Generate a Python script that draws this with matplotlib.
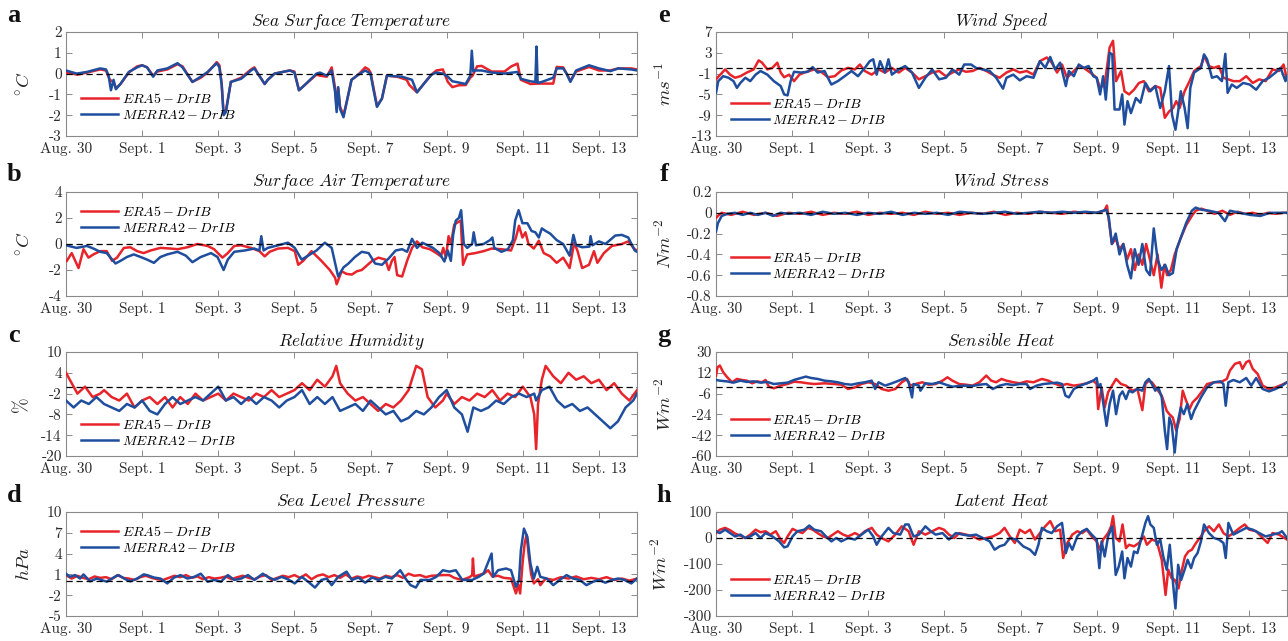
import numpy as np
import matplotlib.pyplot as plt

plt.rcParams['font.family'] = 'cmr10'
plt.rcParams['mathtext.fontset'] = 'cm'
plt.rcParams['axes.unicode_minus'] = False

RED = '#e8242b'
BLUE = '#1f4e9e'

# ---------------- data (days since Aug 30 00:00) ----------------
# a: sea surface temperature
sst_t_era = [0, 0.3, 0.55, 0.9, 1.05, 1.15, 1.25, 1.31, 1.43, 1.65, 1.87, 2.0, 2.13, 2.29, 2.4, 2.66,
             2.93, 3.06, 3.32, 3.54, 3.72, 3.96, 4.03, 4.09, 4.14, 4.2, 4.33, 4.6, 4.86, 4.95, 5.04,
             5.22, 5.3, 5.48, 5.88, 6.0, 6.12, 6.27, 6.58, 6.67, 6.85, 6.98, 7.07, 7.11, 7.15, 7.2,
             7.29, 7.37, 7.5, 7.68, 7.86, 7.95, 8.0, 8.08, 8.17, 8.3, 8.43, 8.7, 8.95, 9.02, 9.22,
             9.44, 9.6, 9.73, 9.9, 10.03, 10.15, 10.32, 10.5, 10.62, 10.68, 10.8, 10.92, 11.18, 11.52,
             11.7, 11.86, 11.95, 12.2, 12.4, 12.8, 12.89, 13.06, 13.15, 13.25, 13.4, 13.74, 14.0,
             14.3, 14.51, 14.85, 15.0]
sst_era = [0.05, -0.05, 0.05, 0.2, 0.15, -0.3, -0.4, -0.7, -0.5, 0.05, 0.35, 0.4, 0.3, -0.1, 0.1, 0.2,
           0.45, 0.35, -0.4, -0.2, 0.05, 0.55, 0.4, -0.5, -1.9, -1.8, -0.4, -0.2, 0.2, 0.3, 0.0,
           -0.5, -0.3, 0.0, 0.15, 0.1, -0.8, -0.55, -0.05, -0.1, -0.15, 0.3, -0.7, -1.7, -0.7, -1.6,
           -2.0, -1.4, -0.3, -0.05, 0.3, 0.2, 0.05, -0.7, -1.55, -1.2, -0.1, -0.15, -0.3, -0.55, -0.9,
           -0.4, -0.05, 0.15, 0.2, -0.4, -0.65, -0.56, -0.55, -0.2, -0.1, 0.35, 0.37, 0.1, 0.1,
           0.35, 0.48, -0.3, -0.5, -0.48, -0.48, 0.32, 0.3, 0.0, -0.35, 0.1, 0.32, 0.15,
           0.15, 0.25, 0.25, 0.2]
sst_t_mer = [0, 0.28, 0.55, 0.9, 1.05, 1.12, 1.18, 1.25, 1.31, 1.43, 1.65, 1.87, 2.0, 2.13, 2.29, 2.4,
             2.66, 2.93, 3.06, 3.32, 3.54, 3.72, 3.96, 4.03, 4.09, 4.14, 4.2, 4.33, 4.6, 4.86, 4.95,
             5.04, 5.22, 5.3, 5.48, 5.88, 6.0, 6.12, 6.27, 6.58, 6.67, 6.85, 6.98, 7.07, 7.11, 7.15,
             7.2, 7.29, 7.37, 7.5, 7.68, 7.86, 8.0, 8.08, 8.17, 8.3, 8.43, 8.83, 9.09, 9.22, 9.44,
             9.6, 9.73, 9.9, 10.03, 10.15, 10.32, 10.5, 10.62, 10.66, 10.7, 10.74, 10.92, 11.18,
             11.52, 11.86, 11.95, 12.2, 12.33, 12.36, 12.39, 12.5, 12.8, 12.89, 13.06, 13.15,
             13.25, 13.4, 13.74, 14.0, 14.3, 14.51, 14.85, 15.0]
sst_mer = [0.15, 0.0, 0.08, 0.25, 0.2, -0.1, -0.8, -0.3, -0.75, -0.5, 0.08, 0.3, 0.4, 0.3, -0.15, 0.15,
           0.25, 0.5, 0.3, -0.4, -0.15, 0.08, 0.5, 0.3, -0.55, -2.0, -1.85, -0.4, -0.25, 0.15, 0.25,
           0.0, -0.5, -0.3, 0.0, 0.15, 0.05, -0.8, -0.55, 0.0, 0.05, -0.1, 0.15, -0.9, -1.85, -0.65,
           -1.7, -2.1, -1.4, -0.3, -0.05, 0.15, 0.0, -0.8, -1.6, -1.2, -0.1, -0.15, -0.3, -0.9, -0.4,
           -0.05, 0.05, 0.0, -0.15, -0.37, -0.43, -0.5, -0.1, 1.1, 0.1, 0.15, 0.15, 0.05,
           0.0, 0.08, -0.25, -0.37, -0.4, 1.3, -0.45, -0.4, -0.2, 0.25, 0.25, 0.0,
           -0.4, 0.15, 0.4, 0.25, 0.12, 0.25, 0.2, 0.15]

# b: surface air temperature
sat_t_era = [0.02, 0.15, 0.33, 0.46, 0.59, 0.72, 0.9, 1.07, 1.21, 1.34, 1.52, 1.69, 1.87, 2.04, 2.22,
             2.48, 2.75, 2.93, 3.19, 3.45, 3.72, 3.89, 4.11, 4.25, 4.42, 4.6, 4.86, 5.08, 5.22, 5.35,
             5.57, 5.83, 6.01, 6.1, 6.23, 6.45, 6.71, 6.93, 7.07, 7.11, 7.24, 7.37, 7.51, 7.64, 7.77,
             8.04, 8.21, 8.39, 8.48, 8.56, 8.63, 8.7, 8.83, 8.96, 9.09, 9.22, 9.36, 9.56, 9.73, 9.85,
             9.91, 9.98, 10.05, 10.11, 10.2, 10.28, 10.37, 10.43, 10.54, 10.75, 10.97, 11.18, 11.44,
             11.69, 11.82, 11.9, 11.99, 12.07, 12.15, 12.29, 12.42, 12.55, 12.72, 12.89, 13.06,
             13.23, 13.35, 13.44, 13.56, 13.74, 13.87, 13.96, 14.13, 14.34, 14.6, 14.77, 14.94, 15.0]
sat_era = [-1.3, -0.7, -1.85, -0.4, -1.05, -0.8, -0.55, -0.55, -1.3, -1.05, -0.3, -0.25, -0.55, -0.7, -0.5,
           -0.3, -0.35, -0.4, -0.25, 0.0, -0.15, -0.4, -1.05, -0.7, -0.15, -0.1, -0.3, -0.55, -0.95, -0.6,
           -0.35, -0.3, -0.55, -1.6, -1.3, -0.55, -1.3, -2.0, -2.6, -3.1, -2.1, -2.3, -2.35, -2.1, -2.0,
           -1.3, -1.05, -1.2, -2.0, -1.3, -1.0, -2.4, -2.5, -1.3, -0.3, 0.2, -0.25, -0.4, -0.7, -0.95,
           -0.3, -1.05, 0.6, 0.0, 1.5, 1.65, 1.8, -1.6, -0.8, -0.7, -0.55, -0.35, -0.4,
           -0.5, 0.5, 1.4, 0.5, 0.9, 0.0, -0.35, 0.25, -0.7, -0.95, -1.45, -1.05,
           -1.85, 0.1, -0.55, -1.85, -1.6, -0.55, -1.45, -0.7, -0.15, 0.0, 0.2, -0.4, -0.5]
sat_t_mer = [0, 0.28, 0.55, 0.72, 0.9, 1.07, 1.3, 1.43, 1.6, 1.78, 1.96, 2.13, 2.31, 2.48, 2.66, 2.93,
             3.15, 3.32, 3.54, 3.81, 3.98, 4.14, 4.25, 4.42, 4.69, 4.95, 5.08, 5.13, 5.19, 5.3, 5.57,
             5.83, 6.01, 6.19, 6.36, 6.58, 6.8, 6.98, 7.11, 7.15, 7.29, 7.42, 7.59, 7.77, 7.95, 8.12,
             8.3, 8.48, 8.66, 8.83, 8.96, 9.09, 9.22, 9.36, 9.64, 9.81, 9.94, 10.03, 10.11, 10.17,
             10.24, 10.32, 10.38, 10.45, 10.54, 10.67, 10.71, 10.77, 10.97, 11.14, 11.2, 11.25,
             11.44, 11.61, 11.74, 11.8, 11.89, 11.99, 12.12, 12.23, 12.33, 12.42, 12.5, 12.6,
             12.72, 12.89, 13.06, 13.23, 13.33, 13.4, 13.56, 13.75, 13.78, 13.83, 14.0, 14.17,
             14.43, 14.6, 14.77, 14.94, 15.0]
sat_mer = [-0.1, -0.3, -0.15, -0.35, -0.6, -0.7, -1.5, -1.3, -1.0, -0.8, -1.0, -1.2, -1.45, -1.0, -0.8, -0.6,
           -0.9, -1.4, -1.0, -0.7, -1.0, -2.0, -1.2, -0.6, -0.5, -0.35, -0.5, 0.6, -0.5, -0.3, -0.1,
           0.1, -0.3, -1.2, -0.9, -0.5, 0.1, -0.3, -2.0, -2.5, -1.8, -1.5, -1.0, -0.6, -0.7, -1.5,
           -1.6, -1.1, -0.5, -0.4, -0.6, 0.4, -0.3, 0.1, -0.3, -0.7, -1.35, -0.5, -1.3, 0.7,
           1.8, 2.0, 2.6, 0.0, -0.3, 0.0, 0.9, -0.1, 0.0, 0.3, 0.5, -0.3,
           -0.6, -0.4, 0.3, 1.8, 2.6, 1.6, 1.6, 1.0, 0.9, 0.5, 1.2, 1.0,
           0.8, 0.3, 0.0, -0.9, 0.7, -0.1, -0.25, -0.2, 0.6, -0.1, 0.2, 0.0,
           0.65, 0.7, 0.5, -0.5, -0.6]

# c: relative humidity
rh_t_era = [0, 0.1, 0.3, 0.5, 0.7, 0.9, 1.0, 1.2, 1.4, 1.6, 1.8, 2.0, 2.2, 2.4, 2.6, 2.8, 3.0, 3.2, 3.4,
            3.6, 3.8, 4.0, 4.2, 4.4, 4.6, 4.8, 5.0, 5.2, 5.4, 5.6, 5.8, 6.0, 6.2, 6.4, 6.6, 6.8, 7.0,
            7.1, 7.2, 7.4, 7.6, 7.8, 8.0, 8.2, 8.4, 8.6, 8.8, 9.0, 9.2, 9.35, 9.5, 9.7, 9.9, 10.0,
            10.2, 10.4, 10.6, 10.8, 11.0, 11.2, 11.4, 11.6, 11.8, 12.0, 12.2, 12.3, 12.35, 12.4,
            12.5, 12.6, 12.8, 13.0, 13.2, 13.4, 13.6, 13.8, 14.0, 14.2, 14.4, 14.6, 14.8, 15.0]
rh_era = [4, 2, -2, 0, -3, -2, -1, -3, -4, -2, -6, -4, -3, -5, -3, -6, -3, -5, -2,
          -4, -3, -2, -4, -2, -3, -4, -2, -3, -1, -3, -2, -1, 1, -1, 2, 0, 3,
          6, 1, -2, -4, -3, -5, -7, -5, -6, -4, -1, 6, 5, -3, -6, -4, -2,
          -5, -3, -4, -2, -3, -1, -4, -2, -3, 0, -3, -8, -18, -5,
          2, 6, 3, 1, 4, 2, 3, 1, 2, -1, 1, -2, -4, -1]
rh_t_mer = [0, 0.2, 0.4, 0.6, 0.8, 1.0, 1.2, 1.4, 1.6, 1.8, 2.0, 2.2, 2.4, 2.6, 2.8, 3.0, 3.2, 3.4, 3.6,
            3.8, 4.0, 4.2, 4.4, 4.6, 4.8, 5.0, 5.2, 5.4, 5.6, 5.8, 6.0, 6.2, 6.4, 6.6, 6.8, 7.0, 7.2,
            7.4, 7.6, 7.8, 8.0, 8.2, 8.4, 8.6, 8.8, 9.0, 9.2, 9.4, 9.6, 9.8, 10.0, 10.2, 10.4, 10.55,
            10.7, 10.9, 11.1, 11.3, 11.5, 11.7, 11.9, 12.1, 12.3, 12.35, 12.5, 12.7, 12.9, 13.1,
            13.3, 13.5, 13.7, 13.9, 14.1, 14.3, 14.5, 14.7, 14.9, 15.0]
rh_mer = [-4, -6, -4, -5, -3, -5, -6, -7, -5, -6, -4, -7, -8, -5, -3, -5, -4, -3, -4,
          -2, 0, -4, -3, -5, -3, -5, -3, -4, -6, -4, -3, -1, -5, -3, -5, -3, -7,
          -6, -5, -7, -4, -6, -8, -7, -10, -9, -7, -8, -6, -3, -1, -6, -8, -13,
          -6, -7, -6, -4, -5, -3, -2, -3, -2, -4, -1, 0, -4, -6,
          -5, -7, -6, -8, -10, -12, -10, -6, -4, -2]

# d: sea level pressure
slp_t_era = [0, 0.15, 0.3, 0.45, 0.6, 0.75, 0.9, 1.05, 1.2, 1.35, 1.5, 1.65, 1.8, 1.95, 2.1, 2.25, 2.4,
             2.55, 2.7, 2.85, 3.0, 3.15, 3.3, 3.45, 3.6, 3.75, 3.9, 4.05, 4.2, 4.35, 4.5, 4.65, 4.8,
             4.95, 5.1, 5.25, 5.4, 5.55, 5.7, 5.85, 6.0, 6.15, 6.3, 6.45, 6.6, 6.75, 6.9, 7.05, 7.2,
             7.35, 7.5, 7.65, 7.8, 7.95, 8.1, 8.25, 8.4, 8.55, 8.7, 8.85, 9.0, 9.15, 9.3, 9.45, 9.6,
             9.9, 10.07, 10.2, 10.4, 10.6, 10.67, 10.69, 10.72, 10.85, 11.0, 11.09, 11.2, 11.35,
             11.5, 11.69, 11.82, 11.88, 11.93, 12.0, 12.05, 12.1, 12.16, 12.22, 12.29, 12.4, 12.46,
             12.6, 12.8, 13.0, 13.2, 13.4, 13.6, 13.8, 14.0, 14.2, 14.4, 14.6, 14.8, 15.0]
slp_era = [0.9, 0.4, 0.8, 0.5, 0.3, 0.7, 0.5, 0.6, 0.3, 0.9, 0.5, 0.4, 0.2, 0.6, 0.8, 0.5, 0.3,
           0.2, 0.5, 0.8, 0.6, 0.9, 0.5, 0.7, 0.3, 0.6, 0.4, 0.5, 0.7, 0.3, 0.6, 0.8, 0.5,
           0.3, 0.7, 0.9, 0.2, 0.5, 0.8, 0.6, 0.9, 0.5, 1.0, 0.3, 0.8, 1.0, 0.6, 0.9, 0.5,
           1.0, 0.4, 0.7, 0.5, 0.8, 0.6, 0.4, 0.8, 0.6, 0.9, 0.5, 1.1, 0.8, 0.9, 0.6, 0.8,
           0.9, 0.9, 0.5, 0.2, 0.6, 0.9, 3.3, 0.7, 0.9, 1.2, 1.6, 0.7, 0.8,
           0.5, 0.4, -1.75, -0.5, -1.75, 3.0, 5.5, 6.7, 3.5, 1.0, -0.3, 0.3, -0.55,
           0.4, 0.2, 0.6, 0.4, 0.7, 0.3, 0.5, 0.3, 0.6, 0.2, 0.4, 0.1, 0.4]
slp_t_mer = [0, 0.1, 0.24, 0.37, 0.46, 0.63, 0.81, 1.07, 1.25, 1.38, 1.56, 1.69, 1.87, 2.04, 2.13, 2.31,
             2.48, 2.66, 2.84, 3.01, 3.19, 3.37, 3.54, 3.72, 3.89, 4.07, 4.25, 4.42, 4.6, 4.78, 4.95,
             5.17, 5.3, 5.48, 5.66, 5.83, 6.01, 6.19, 6.36, 6.54, 6.71, 6.85, 6.98, 7.15, 7.37, 7.51,
             7.68, 7.86, 8.04, 8.21, 8.39, 8.56, 8.78, 8.92, 9.05, 9.19, 9.31, 9.49, 9.56, 9.73,
             9.9, 10.07, 10.24, 10.41, 10.67, 10.84, 10.97, 11.18, 11.22, 11.35, 11.56, 11.69,
             11.82, 11.9, 11.95, 12.03, 12.12, 12.2, 12.29, 12.38, 12.46, 12.63, 12.8, 12.97,
             13.15, 13.32, 13.5, 13.67, 13.85, 14.0, 14.17, 14.34, 14.5, 14.67, 14.85, 15.0]
slp_mer = [1.1, 0.65, 0.9, 0.4, 1.0, 0.0, 0.4, -0.05, 0.55, 0.9, 0.3, 0.0, 0.4, 1.0, 0.9, 0.55,
           0.4, -0.3, 0.55, 0.9, 0.4, 0.65, 1.1, -0.05, 0.2, -0.05, 0.9, 0.2, 0.4, 0.9, 0.2,
           1.1, 0.65, 0.2, 0.65, 0.3, -0.3, 0.65, -0.05, -0.9, 0.2, 0.4, -0.55, 0.65, 1.4, 0.2,
           0.55, -0.2, 0.55, 0.2, 0.65, 0.4, 1.6, 0.4, -0.55, -0.9, 0.2, 0.2, 0.2, 0.65,
           1.6, 1.4, 1.6, 0.2, 0.2, 0.65, 1.1, 4.0, 0.65, 1.6, 1.85, 1.6,
           -0.8, 0.2, 4.5, 7.6, 6.4, 2.6, 0.4, 2.1, 0.65, 0.4, -0.55, 0.2,
           0.9, 0.4, 0.2, -0.55, -0.05, 0.2, -0.2, 0.2, 0.4, 0.2, -0.3, 0.4]

# e: wind speed
ws_t_era = [0, 0.1, 0.24, 0.37, 0.5, 0.64, 0.81, 0.99, 1.12, 1.21, 1.35, 1.48, 1.61, 1.7, 1.79, 1.92,
            2.05, 2.19, 2.32, 2.45, 2.58, 2.76, 2.94, 3.12, 3.29, 3.47, 3.65, 3.78, 3.91, 4.09, 4.27,
            4.44, 4.62, 4.8, 4.97, 5.15, 5.33, 5.5, 5.68, 5.86, 6.04, 6.21, 6.39, 6.57, 6.74, 6.92,
            7.1, 7.27, 7.45, 7.63, 7.81, 7.98, 8.16, 8.34, 8.51, 8.69, 8.82, 8.96, 9.09, 9.22, 9.4,
            9.53, 9.66, 9.83, 10.0, 10.09, 10.21, 10.34, 10.43, 10.51, 10.64, 10.73, 10.85, 10.98,
            11.11, 11.24, 11.37, 11.54, 11.67, 11.79, 11.9, 12.01, 12.09, 12.18, 12.31, 12.44,
            12.56, 12.74, 12.82, 12.95, 13.08, 13.21, 13.33, 13.46, 13.59, 13.76, 13.93, 14.1,
            14.27, 14.44, 14.62, 14.79, 14.91, 15.0]
ws_era = [-2.1, -1.3, -0.2, -1.2, -1.8, -1.5, -0.8, -0.2, 1.55, 1.1, -0.2, 0.1, 1.1, -0.8, -1.7, -1.2,
          -2.45, -1.2, -0.8, -0.5, -0.2, -0.65, -1.7, -1.5, -0.4, 0.1, -0.2, 0.75, -0.5, -1.2, -0.2,
          -0.8, 0.1, -0.8, 0.1, -0.8, -2.1, -1.5, -0.8, -0.5, -1.5, -0.8, -0.2, -0.65, -0.5, 0.1,
          -0.5, -1.2, -1.8, -0.8, -0.2, -0.8, -0.5, -1.2, 1.4, 2.1, 1.1, -0.8, 0.75, -1.8, -0.5,
          0.45, 0.1, -0.8, -1.8, -3.75, -3.1, 4.0, 5.3, -2.45, -0.5, -4.4, -5.0, -4.1,
          -2.8, -2.45, -4.4, -3.4, -3.75, -9.5, -8.3, -7.6, -6.3, -7.6, -4.4, -2.45,
          -0.5, 0.45, 2.4, 0.45, 0.1, 0.45, -1.8, -2.1, -2.45, -2.45, -1.5, -2.8,
          -2.1, -2.45, -0.2, -0.5, 0.75, -2.1]
ws_t_mer = [0, 0.06, 0.19, 0.33, 0.46, 0.55, 0.64, 0.77, 0.9, 1.04, 1.17, 1.35, 1.52, 1.7, 1.79, 1.88,
            1.96, 2.05, 2.23, 2.41, 2.54, 2.67, 2.85, 3.03, 3.2, 3.38, 3.56, 3.73, 3.91, 4.04, 4.13,
            4.22, 4.31, 4.44, 4.53, 4.62, 4.8, 4.97, 5.15, 5.33, 5.5, 5.68, 5.86, 6.04, 6.21, 6.39,
            6.52, 6.7, 6.83, 7.01, 7.19, 7.36, 7.54, 7.63, 7.81, 7.98, 8.16, 8.34, 8.51, 8.65, 8.78,
            8.91, 9.04, 9.19, 9.27, 9.4, 9.53, 9.66, 9.79, 9.91, 10.0, 10.09, 10.17, 10.24, 10.34,
            10.41, 10.47, 10.6, 10.67, 10.73, 10.81, 10.9, 11.03, 11.15, 11.28, 11.41, 11.54,
            11.67, 11.79, 11.9, 11.98, 12.07, 12.14, 12.21, 12.31, 12.39, 12.46, 12.56, 12.74,
            12.82, 12.9, 13.03, 13.16, 13.29, 13.38, 13.44, 13.55, 13.68, 13.85, 14.02, 14.19,
            14.36, 14.53, 14.7, 14.83, 14.96, 15.0]
ws_mer = [-4.7, -2.45, -1.5, -1.8, -2.45, -3.75, -2.8, -1.8, -2.45, -1.2, -0.5, -1.2, -2.45, -3.4, -5.0, -5.2,
          -2.45, -0.65, -0.8, -0.65, 0.25, -0.8, -0.5, -3.1, -2.45, -1.5, -0.5, -1.5, 0.1, 1.4, 1.75,
          -1.2, 1.4, -0.8, 1.75, -1.2, -0.2, 0.45, -0.8, -3.75, -1.8, -0.2, -2.1, -1.8, -0.2, -1.2,
          0.75, 0.75, 0.1, -0.2, -0.5, -1.8, -3.9, -1.8, -1.2, -2.3, -1.5, -1.8, 1.4, 0.1, 2.2,
          -0.2, 1.1, -3.4, -0.5, -1.5, 0.75, 0.1, 0.45, -1.5, -1.8, -5.0, -1.5, -6.0, 3.0,
          2.7, -7.9, -7.9, -5.0, -10.8, -6.3, -8.6, -5.7, -6.6, -2.8, -4.4, -3.4,
          -7.6, -4.4, 0.45, -8.9, -11.8, -8.3, -4.4, -7.6, -11.5, -3.75, -0.8, 0.1,
          2.7, 1.75, -1.8, -1.5, -2.45, 2.8, -4.7, -3.1, -3.75, -2.8, -3.1, -4.1,
          -2.45, -1.8, -0.8, 0.1, -2.45, -1.5]

# f: wind stress
tau_t_era = [0, 0.05, 0.15, 0.4, 0.7, 1.0, 1.3, 1.6, 1.9, 2.2, 2.5, 2.8, 3.1, 3.4, 3.7, 4.0, 4.3, 4.6,
             4.9, 5.2, 5.5, 5.8, 6.1, 6.4, 6.7, 7.0, 7.3, 7.6, 7.9, 8.2, 8.5, 8.8, 9.1, 9.4, 9.7,
             10.0, 10.2, 10.27, 10.33, 10.4, 10.5, 10.6, 10.7, 10.8, 10.9, 11.0, 11.1, 11.2, 11.3,
             11.4, 11.5, 11.6, 11.7, 11.78, 11.85, 11.95, 12.05, 12.2, 12.35, 12.5, 12.6, 12.75,
             12.9, 13.1, 13.3, 13.5, 13.7, 13.9, 14.1, 14.3, 14.5, 14.7, 14.9, 15.0]
tau_era = [-0.05, -0.03, 0.0, -0.02, 0.01, -0.02, 0.0, -0.03, 0.0, -0.01, 0.01, -0.02, 0.0, -0.01, 0.01,
           -0.02, 0.0, -0.01, 0.0, -0.02, 0.01, -0.01, 0.0, -0.02, 0.0, -0.01, 0.01, -0.02, 0.0,
           -0.01, 0.01, 0.0, -0.01, 0.01, 0.0,
           0.0, 0.02, 0.07, -0.1, -0.3, -0.25, -0.35, -0.3, -0.45, -0.35, -0.55, -0.4, -0.5, -0.3,
           -0.45, -0.6, -0.4, -0.72, -0.5, -0.6, -0.55, -0.4, -0.25, -0.12, -0.03, 0.02, 0.04,
           0.02, -0.01, 0.02, -0.02, 0.01, -0.01, 0.0, -0.02, 0.0, -0.01, 0.0, 0.0]
tau_t_mer = [0, 0.05, 0.15, 0.3, 0.5, 0.7, 0.9, 1.1, 1.3, 1.5, 1.7, 1.9, 2.2, 2.5, 2.8, 3.1, 3.4, 3.7,
             4.0, 4.3, 4.6, 4.9, 5.2, 5.5, 5.8, 6.1, 6.4, 6.7, 7.0, 7.3, 7.6, 7.9, 8.2, 8.5, 8.8,
             9.1, 9.4, 9.7, 10.0, 10.25, 10.32, 10.4, 10.5, 10.6, 10.7, 10.8, 10.9, 11.0, 11.1,
             11.2, 11.3, 11.4, 11.5, 11.6, 11.7, 11.8, 11.9, 12.0, 12.1, 12.2, 12.35, 12.5, 12.6,
             12.75, 12.95, 13.2, 13.37, 13.5, 13.76, 14.03, 14.3, 14.55, 14.8, 15.0]
tau_mer = [-0.18, -0.1, -0.03, -0.01, 0.0, -0.02, 0.0, -0.02, 0.0, -0.03, 0.0, -0.01, 0.0, -0.02, 0.01,
           -0.01, 0.0, -0.02, 0.0, -0.01, 0.01, -0.02, 0.0, -0.01, 0.0, -0.02, 0.01, 0.0, -0.01,
           0.0, 0.01, -0.01, 0.0, 0.01, 0.0, 0.01, 0.0, 0.01, 0.0, 0.03, -0.05, -0.3, -0.2, -0.4,
           -0.3, -0.5, -0.63, -0.35, -0.5, -0.3, -0.55, -0.6, -0.15, -0.45, -0.55, -0.5, -0.6,
           -0.58, -0.35, -0.25, -0.1, 0.02, 0.05, 0.03, 0.02, 0.0, -0.08, 0.02, 0.0, -0.02,
           -0.03, 0.0, 0.0, 0.0]

# g: sensible heat
sh_t_era = [0, 0.04, 0.1, 0.19, 0.28, 0.42, 0.55, 0.68, 0.81, 0.95, 1.08, 1.21, 1.3, 1.39, 1.52, 1.7,
            1.88, 2.05, 2.23, 2.41, 2.58, 2.85, 3.12, 3.29, 3.47, 3.65, 3.82, 4.0, 4.18, 4.35, 4.53,
            4.71, 4.88, 5.02, 5.1, 5.24, 5.42, 5.59, 5.77, 5.95, 6.08, 6.21, 6.39, 6.57, 6.74, 6.92,
            7.1, 7.23, 7.36, 7.5, 7.63, 7.81, 7.98, 8.16, 8.34, 8.56, 8.73, 8.87, 9.04, 9.22, 9.4,
            9.57, 9.74, 9.91, 10.0, 10.04, 10.13, 10.21, 10.3, 10.43, 10.51, 10.64, 10.77, 10.94,
            11.07, 11.2, 11.28, 11.37, 11.45, 11.58, 11.71, 11.84, 11.91, 12.0, 12.09, 12.18,
            12.26, 12.35, 12.44, 12.52, 12.65, 12.78, 12.9, 13.08, 13.25, 13.42, 13.5, 13.63,
            13.76, 13.83, 13.93, 14.01, 14.1, 14.23, 14.36, 14.53, 14.7, 14.87, 15.0]
sh_era = [9.6, 16.8, 18.3, 12.5, 8.7, 3.8, 6.7, 5.8, 5.2, 2.9, 4.6, 3.8, 5.8, 0.0, -1.4, 0.9,
          2.3, 4.3, 3.8, 2.9, 2.3, 2.9, 2.3, 1.7, -2.0, -0.6, 2.3, 3.8, 2.3, -2.0, -3.5,
          -2.0, 3.8, 6.7, 0.9, 2.3, 3.8, 1.7, 2.3, 5.2, 8.1, 5.2, 2.3, 1.7, 0.9, 3.8,
          9.6, 5.2, 3.8, 6.7, 5.2, 3.8, 2.9, 4.6, 3.8, 6.7, 5.2, 2.9, 0.9, 2.3, 0.9,
          1.7, 2.9, 5.2, 2.3, -19.4, -0.6, -18.0, -4.9, 2.3, 6.7, 2.3, 0.9, -3.5,
          -2.0, -20.3, 2.3, 5.2, 3.8, -2.0, -7.8, -20.9, -23.8, -26.7, -38.0, -28.0,
          -3.5, -12.2, -19.4, -13.6, -9.3, -3.5, 2.3, 3.8, 3.8, 6.7, 13.9, 19.7,
          21.2, 15.4, 21.2, 22.6, 15.4, 11.0, 0.9, -2.0, -0.6, 1.7, 3.8]
sh_t_mer = [0, 0.1, 0.28, 0.46, 0.64, 0.81, 0.99, 1.17, 1.35, 1.52, 1.7, 1.88, 2.05, 2.23, 2.36, 2.5,
            2.67, 2.85, 3.03, 3.2, 3.38, 3.56, 3.73, 3.91, 4.09, 4.18, 4.27, 4.44, 4.62, 4.8, 4.97,
            5.06, 5.15, 5.19, 5.33, 5.37, 5.5, 5.68, 5.86, 6.04, 6.21, 6.39, 6.57, 6.74, 6.92, 7.1,
            7.27, 7.45, 7.63, 7.81, 7.98, 8.16, 8.25, 8.42, 8.6, 8.78, 8.96, 9.09, 9.18, 9.27, 9.4,
            9.57, 9.74, 9.91, 10.0, 10.04, 10.1, 10.17, 10.26, 10.34, 10.43, 10.51, 10.6, 10.68,
            10.77, 10.85, 10.94, 11.07, 11.2, 11.28, 11.37, 11.45, 11.54, 11.62, 11.71, 11.79,
            11.85, 11.91, 11.97, 12.05, 12.12, 12.21, 12.29, 12.38, 12.48, 12.56, 12.65, 12.74,
            12.9, 13.08, 13.25, 13.33, 13.39, 13.46, 13.59, 13.76, 13.93, 14.06, 14.19, 14.36,
            14.53, 14.7, 14.87, 15.0]
sh_mer = [5.8, 5.2, 4.6, 3.5, 5.2, 4.1, 4.6, 3.5, 4.1, 2.3, 2.9, 3.5, 5.8, 7.5, 8.7, 7.5,
          6.7, 5.2, 4.6, 3.8, 2.3, 1.7, 2.9, 3.8, 5.2, -2.0, 3.8, 0.9, 2.9, 5.2, 7.5,
          3.8, -9.3, 2.3, 0.9, -3.5, 2.9, 2.3, 3.8, 1.7, 0.0, 0.6, 0.9, 0.6, 1.7, 2.3,
          -2.0, 0.9, 2.3, 1.4, 2.3, 2.3, -2.0, 0.9, 2.3, 2.9, 3.5, 2.3, -7.8, -9.3, -2.0,
          0.9, 2.9, 5.2, 7.5, -0.6, 2.3, -13.6, -33.9, -15.1, -3.5, -23.8, -7.8, -4.1,
          -10.7, -3.5, -4.9, -2.0, -3.5, 3.8, 6.7, 2.3, -3.5, -0.6, -9.3, -38.0,
          -54.0, -26.7, -32.5, -57.0, -32.5, -18.0, -23.8, -15.1, -28.0, -20.9, -15.1, -9.3,
          -0.6, 3.8, 4.6, 2.3, -16.5, 3.8, 5.8, 3.8, 7.5, 0.9, 7.5, -2.0,
          -4.1, -2.0, 0.9, 3.8]

# h: latent heat
lh_t_era = [0, 0.1, 0.24, 0.37, 0.5, 0.64, 0.77, 0.9, 1.04, 1.17, 1.3, 1.43, 1.57, 1.7, 1.79, 1.88,
            2.01, 2.14, 2.27, 2.41, 2.54, 2.67, 2.81, 2.94, 3.07, 3.2, 3.34, 3.47, 3.65, 3.78, 3.91,
            4.09, 4.22, 4.35, 4.53, 4.71, 4.88, 5.06, 5.19, 5.33, 5.5, 5.68, 5.86, 5.99, 6.12, 6.26,
            6.39, 6.57, 6.74, 6.92, 7.1, 7.27, 7.45, 7.58, 7.72, 7.85, 7.98, 8.12, 8.25, 8.38, 8.51,
            8.65, 8.78, 8.91, 9.04, 9.12, 9.23, 9.36, 9.49, 9.62, 9.74, 9.87, 10.0, 10.09, 10.17,
            10.3, 10.38, 10.43, 10.5, 10.6, 10.68, 10.77, 10.85, 10.98, 11.11, 11.24, 11.32,
            11.45, 11.58, 11.71, 11.81, 11.88, 11.97, 12.05, 12.15, 12.24, 12.32, 12.41, 12.5,
            12.61, 12.74, 12.82, 12.95, 13.08, 13.21, 13.33, 13.46, 13.59, 13.76, 13.89, 14.01,
            14.19, 14.36, 14.49, 14.62, 14.79, 15.0]
lh_era = [19, 32, 39, 30, 17, 9, 0, 13, 32, 22, 26, 13, 26, -6, -19, 6,
          35, 26, 19, 39, 32, 19, 6, 0, 13, 26, 13, 6, 19, 9, 26,
          39, 13, 0, -13, 13, 45, 26, -26, 26, 13, 26, 39, 32, 13, 0,
          19, 13, 6, -6, 0, 6, 19, 39, 6, -19, 32, 19, 32, -6, 19,
          45, 65, 26, 32, -77, -19, 13, 26, 19, 32, 6, -13, -45, -6,
          19, 45, 84, 0, -13, 52, -39, -26, -32, -19, 6, -26,
          -6, -13, -84, -219, -122, -155, -161, -194, -122, -71, -52, -45,
          -19, 6, 26, 45, 26, 52, 19, 6, 19, 39, 52, 32,
          26, 0, -19, 19, 13, -6]
lh_t_mer = [0, 0.1, 0.24, 0.37, 0.5, 0.64, 0.77, 0.9, 1.04, 1.17, 1.3, 1.48, 1.66, 1.79, 1.88, 2.01,
            2.14, 2.32, 2.45, 2.58, 2.76, 2.89, 3.03, 3.16, 3.29, 3.47, 3.65, 3.82, 4.0, 4.13, 4.22,
            4.35, 4.53, 4.66, 4.84, 4.97, 5.06, 5.19, 5.33, 5.5, 5.64, 5.77, 5.95, 6.12, 6.3, 6.48,
            6.65, 6.83, 7.01, 7.19, 7.32, 7.45, 7.58, 7.72, 7.89, 8.07, 8.25, 8.38, 8.47, 8.56,
            8.69, 8.82, 8.96, 9.09, 9.19, 9.27, 9.36, 9.49, 9.62, 9.74, 9.87, 10.0, 10.07, 10.13,
            10.21, 10.3, 10.41, 10.5, 10.58, 10.67, 10.73, 10.81, 10.9, 10.98, 11.07, 11.2, 11.28,
            11.35, 11.41, 11.5, 11.58, 11.67, 11.75, 11.84, 11.92, 12.01, 12.07, 12.14, 12.22,
            12.31, 12.39, 12.48, 12.56, 12.65, 12.74, 12.82, 12.95, 13.08, 13.21, 13.33, 13.39,
            13.46, 13.59, 13.76, 13.93, 14.1, 14.27, 14.44, 14.62, 14.79, 14.87, 15.0]
lh_mer = [26, 19, 32, 19, 6, 13, 0, 6, 19, 0, 19, 6, -13, -36, -32, 6,
          26, 32, 48, 32, 26, 6, -13, 0, -13, 0, -6, 13, 32, 6, -26,
          6, 39, 19, 13, 52, 52, 6, 13, 45, 26, 13, 19, -6, 19, 13,
          9, 13, 0, -13, -45, -32, -26, 0, -6, -32, -45, -65, -26, 39,
          26, 19, 45, 58, -58, -19, -45, 6, 26, 35, 13, -6, -116, -13,
          -71, 6, 45, -142, -110, -52, -155, -77, -110, -52, -58, 13, 58,
          84, 52, 39, -26, -6, -71, -122, -26, -181, -271, -103, -161,
          -122, -84, -116, -77, -58, -13, 52, 19, 0, -6, -19, -77,
          58, 13, 26, 39, 32, 19, 6, 13, 19, 26, 0]

panels = [
    ('a', 'Sea\\ Surface\\ Temperature', r'$^{\circ}C$', sst_t_era, sst_era, sst_t_mer, sst_mer,
     [-3, -2, -1, 0, 1, 2], ['-3', '-2', '-1', '0', '1', '2']),
    ('b', 'Surface\\ Air\\ Temperature', r'$^{\circ}C$', sat_t_era, sat_era, sat_t_mer, sat_mer,
     [-4, -2, 0, 2, 4], ['-4', '-2', '0', '2', '4']),
    ('c', 'Relative\\ Humidity', '%', rh_t_era, rh_era, rh_t_mer, rh_mer,
     [-20, -14, -8, -2, 4, 10], ['-20', '-14', '-8', '-2', '4', '10']),
    ('d', 'Sea\\ Level\\ Pressure', r'$hPa$', slp_t_era, slp_era, slp_t_mer, slp_mer,
     [-5, -2, 1, 4, 7, 10], ['-5', '-2', '1', '4', '7', '10']),
    ('e', 'Wind\\ Speed', r'$ms^{-1}$', ws_t_era, ws_era, ws_t_mer, ws_mer,
     [-13, -9, -5, -1, 3, 7], ['-13', '-9', '-5', '-1', '3', '7']),
    ('f', 'Wind\\ Stress', r'$Nm^{-2}$', tau_t_era, tau_era, tau_t_mer, tau_mer,
     [-0.8, -0.6, -0.4, -0.2, 0, 0.2], ['-0.8', '-0.6', '-0.4', '-0.2', '0', '0.2']),
    ('g', 'Sensible\\ Heat', r'$Wm^{-2}$', sh_t_era, sh_era, sh_t_mer, sh_mer,
     [-60, -42, -24, -6, 12, 30], ['-60', '-42', '-24', '-6', '12', '30']),
    ('h', 'Latent\\ Heat', r'$Wm^{-2}$', lh_t_era, lh_era, lh_t_mer, lh_mer,
     [-300, -200, -100, 0, 100], ['-300', '-200', '-100', '0', '100']),
]

xtick_days = [0, 2, 4, 6, 8, 10, 12, 14]
xtick_labels = ['Aug. 30', 'Sept. 1', 'Sept. 3', 'Sept. 5', 'Sept. 7', 'Sept. 9', 'Sept. 11', 'Sept. 13']

W, H = 1288, 641
fig = plt.figure(figsize=(W / 100, H / 100), dpi=100)

col_x = [66, 716]
row_top = [32, 192, 352, 512]
ax_w, ax_h = 571, 104
legend_rows = {'a': 99, 'b': 212, 'c': 425, 'd': 532, 'e': 104, 'f': 258, 'g': 420, 'h': 580}
ylabel_x = {'a': 35, 'b': 35, 'c': 31, 'd': 33, 'e': 675, 'f': 675, 'g': 675, 'h': 671}

for i, (letter, title, ylab, te, ye, tm, ym, yt, ytl) in enumerate(panels):
    col = i // 4
    row = i % 4
    x0 = col_x[col]
    y0 = row_top[row]
    ax = fig.add_axes([x0 / W, 1 - (y0 + ax_h) / H, ax_w / W, ax_h / H])

    ax.plot(te, ye, color=RED, lw=1.8, label='$ERA5-DrIB$', zorder=3)
    ax.plot(tm, ym, color=BLUE, lw=1.8, label='$MERRA2-DrIB$', zorder=4)
    ax.axhline(0, color='black', lw=0.9, ls=(0, (5, 3)), zorder=5)

    ax.set_xlim(0, 15)
    ax.set_ylim(yt[0], yt[-1])
    ax.set_yticks(yt)
    ax.set_yticklabels(ytl)
    ax.set_xticks(xtick_days)
    ax.set_xticklabels(xtick_labels)
    ax.tick_params(direction='in', top=True, right=True, length=4, width=0.6,
                   color='#777777', labelcolor='#2b2b2b', labelsize=11)
    ax.tick_params(axis='x', pad=4.5)
    ax.tick_params(axis='y', pad=3)
    for s in ax.spines.values():
        s.set_color('#8a8a8a')
        s.set_linewidth(0.8)

    ax.set_title('$' + title + '$', fontsize=12.5, pad=4, color='#111111')
    ax.set_ylabel(ylab, fontsize=13.5, color='#222222')
    ax.yaxis.set_label_coords((ylabel_x[letter] - x0) / ax_w, 0.5)

    fig.text((x0 - 52) / W, 1 - (y0 - 17) / H, letter, fontsize=19, fontweight='bold',
             family='Liberation Serif', ha='center', va='center', color='#111111')

    ry = legend_rows[letter]
    ax.legend(loc='upper left', bbox_to_anchor=((x0 + 15) / W, 1 - (ry - 7) / H),
              bbox_transform=fig.transFigure, frameon=False, fontsize=10,
              handlelength=2.7, handletextpad=0.25, borderpad=0, borderaxespad=0,
              labelspacing=0.2)

fig.savefig('out.png', dpi=100)
